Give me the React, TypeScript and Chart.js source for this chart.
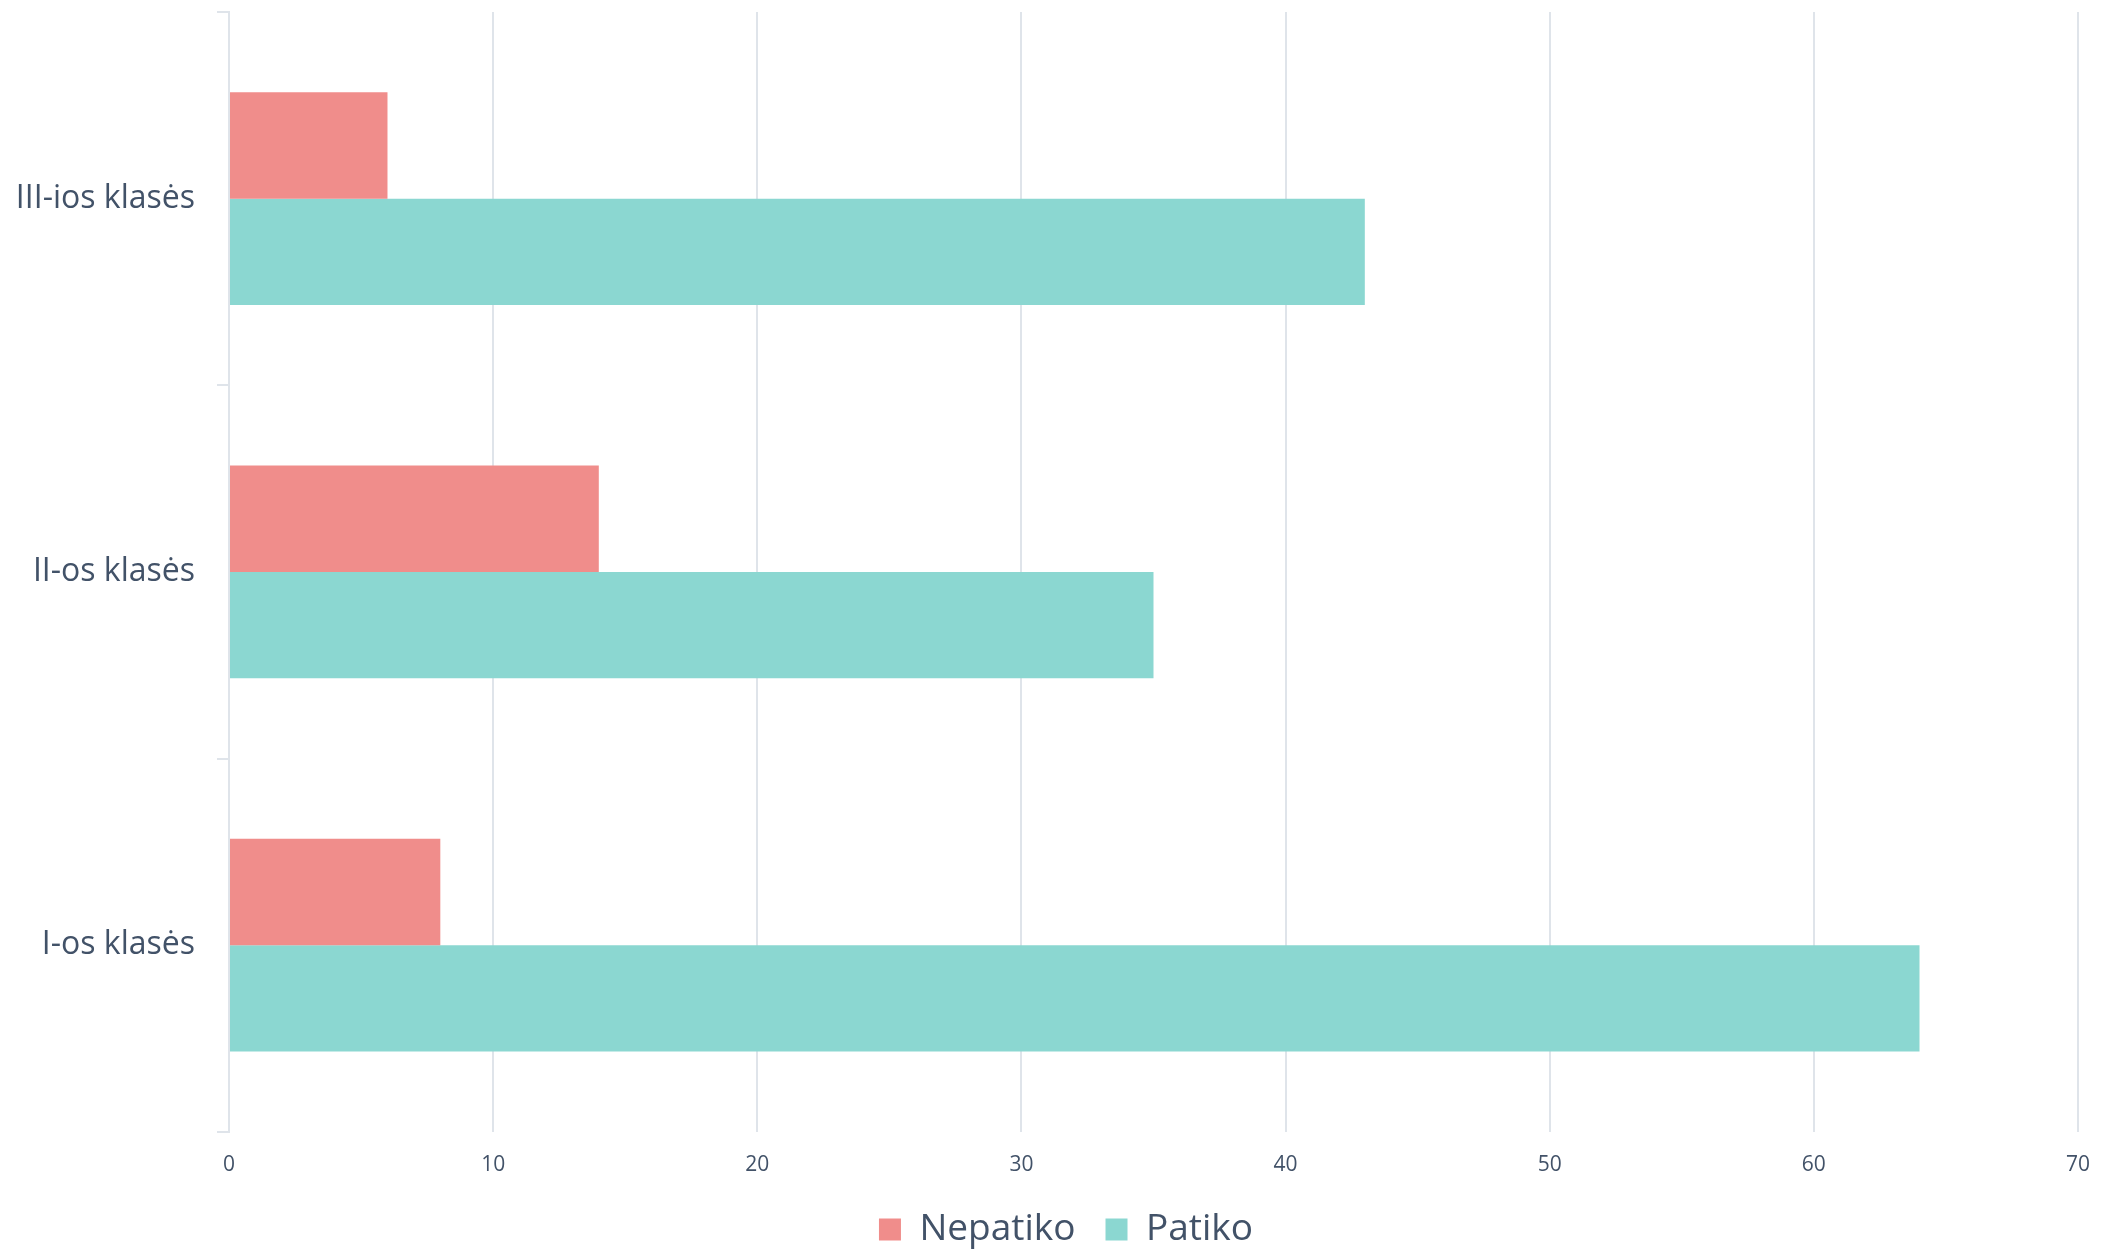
import React, { useEffect, useRef } from "react";
import { Chart, registerables } from "chart.js";

Chart.register(...registerables);

const categories = ["III-ios klasės", "II-os klasės", "I-os klasės"];
const nepatiko = [6, 14, 8];
const patiko = [43, 35, 64];
const xTicks = [0, 10, 20, 30, 40, 50, 60, 70];

const TEXT = "#425268";
const GRID = "#dfe4ea";

const shiftLegend = {
  id: "shiftLegend",
  afterLayout(chart: any) {
    const lg = chart.legend;
    if (lg) {
      lg.left += 8;
      lg.right += 8;
    }
  },
};

export default function App() {
  const ref = useRef<HTMLCanvasElement | null>(null);
  useEffect(() => {
    if (!ref.current) return;
    const chart = new Chart(ref.current, {
      type: "bar",
      data: {
        labels: categories,
        datasets: [
          {
            label: "Nepatiko",
            data: nepatiko,
            backgroundColor: "#f08d8b",
            borderWidth: 0,
            categoryPercentage: 0.57,
            barPercentage: 1,
          },
          {
            label: "Patiko",
            data: patiko,
            backgroundColor: "#8bd7d1",
            borderWidth: 0,
            categoryPercentage: 0.57,
            barPercentage: 1,
          },
        ],
      },
      plugins: [shiftLegend],
      options: {
        indexAxis: "y",
        animation: false,
        responsive: true,
        maintainAspectRatio: false,
        layout: { padding: { left: 0, right: 0, top: 4, bottom: -9 } },
        scales: {
          x: {
            min: 0,
            max: 70,
            afterBuildTicks: (axis: any) => {
              axis.ticks = xTicks.map((v) => ({ value: v }));
            },
            afterFit: (scale: any) => {
              scale.height -= 18;
              scale.paddingRight = 30;
              scale.paddingLeft = 0;
            },
            grid: { color: GRID, lineWidth: 2, drawTicks: false },
            border: { display: false },
            ticks: {
              color: TEXT,
              font: { family: "Open Sans", size: 21 },
              padding: 21,
            },
          },
          y: {
            afterFit: (scale: any) => {
              scale.paddingTop = 0;
              scale.paddingBottom = 0;
              scale.width = 221;
            },
            grid: {
              color: GRID,
              lineWidth: 2,
              drawOnChartArea: false,
              drawTicks: true,
              tickLength: 12,
            },
            border: { color: GRID, width: 2 },
            ticks: {
              color: TEXT,
              font: { family: "Open Sans", size: 32 },
              padding: 22,
            },
          },
        },
        plugins: {
          legend: {
            position: "bottom",
            labels: {
              color: TEXT,
              font: { family: "Open Sans", size: 37 },
              boxWidth: 22,
              boxHeight: 22,
              padding: 30,
            },
          },
          tooltip: { enabled: false },
        },
      },
    });
    return () => chart.destroy();
  }, []);
  return (
    <div style={{ width: 2100, height: 1241, position: "relative" }}>
      <canvas ref={ref} />
    </div>
  );
}
